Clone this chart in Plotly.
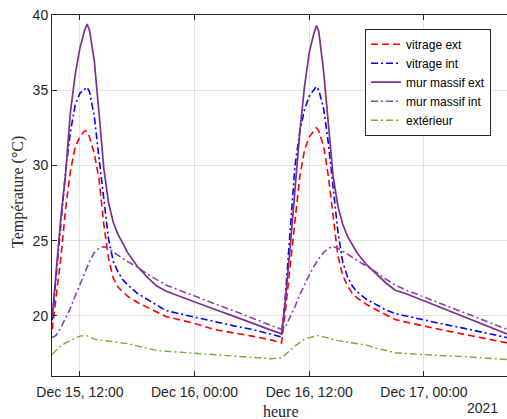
import plotly.graph_objects as go
from datetime import datetime, timedelta

# hours since 2021-12-15 00:00
HOURS = [9.1, 9.5, 10, 10.5, 11, 11.5, 12, 12.5, 12.75, 13, 13.5, 14, 14.5, 15, 15.5, 16, 16.5, 17,
         18, 19, 20, 21, 22, 23, 24, 26, 28, 30, 32, 33.1,
         33.5, 34, 34.5, 35, 35.5, 36, 36.5, 36.75, 37, 37.5, 38, 38.5, 39, 39.5, 40, 40.5, 41,
         42, 43, 44, 45, 46, 48, 50, 52, 54, 56, 56.7]

vitrage_ext = [19.1, 21.2, 23.8, 27.1, 29.6, 31.2, 31.9, 32.3, 32.25, 31.9, 30.8, 29.1, 26.1, 23.8, 22.5, 21.9, 21.6, 21.3,
               20.9, 20.6, 20.25, 19.95, 19.8, 19.65, 19.5, 19.1, 18.9, 18.65, 18.4, 18.2,
               20.3, 23.3, 26.6, 29.2, 31.0, 31.9, 32.3, 32.5, 32.3, 31.3, 29.3, 26.6, 24.0, 22.7, 22.0, 21.5, 21.2,
               20.75, 20.4, 20.05, 19.75, 19.6, 19.3, 19.05, 18.8, 18.55, 18.3, 18.2]

vitrage_int = [19.7, 22.4, 26.0, 29.6, 32.2, 34.0, 34.8, 35.1, 35.2, 34.9, 33.3, 30.5, 27.6, 25.1, 23.6, 22.9, 22.4, 22.05,
               21.5, 21.1, 20.7, 20.35, 20.2, 20.05, 19.9, 19.6, 19.35, 19.1, 18.8, 18.6,
               21.3, 25.5, 29.9, 32.2, 33.7, 34.6, 35.0, 35.25, 35.0, 33.8, 31.5, 28.5, 25.6, 23.6, 22.6, 22.0, 21.6,
               21.1, 20.75, 20.4, 20.15, 20.0, 19.7, 19.45, 19.2, 18.95, 18.65, 18.55]

mur_massif_ext = [19.9, 23.0, 26.5, 29.4, 33.5, 36.0, 37.8, 39.0, 39.4, 39.0, 37.0, 33.5, 29.8, 27.5, 26.2, 25.4, 24.8, 24.2,
                  23.3, 22.6, 22.0, 21.65, 21.4, 21.15, 20.95, 20.45, 20.0, 19.5, 19.05, 18.8,
                  21.0, 24.5, 28.2, 32.1, 35.2, 37.5, 38.8, 39.3, 38.9, 36.3, 32.8, 29.3, 27.3, 26.1, 25.3, 24.7, 24.2,
                  23.4, 22.8, 22.2, 21.7, 21.5, 21.0, 20.5, 19.97, 19.46, 18.95, 18.8]

mur_massif_int = [18.55, 18.7, 19.2, 19.8, 20.5, 21.3, 22.1, 22.9, 23.25, 23.6, 24.2, 24.5, 24.6, 24.5, 24.25, 24.0, 23.8, 23.6,
                  23.25, 22.8, 22.4, 22.05, 21.8, 21.55, 21.3, 20.85, 20.35, 19.86, 19.37, 19.1,
                  19.25, 19.9, 20.6, 21.4, 22.1, 22.7, 23.3, 23.55, 23.8, 24.2, 24.5, 24.6, 24.5, 24.3, 24.1, 23.9, 23.7,
                  23.35, 22.9, 22.45, 22.05, 21.75, 21.25, 20.75, 20.25, 19.75, 19.25, 19.1]

exterieur = [17.45, 17.7, 18.0, 18.2, 18.35, 18.5, 18.65, 18.7, 18.68, 18.6, 18.45, 18.4, 18.35, 18.3, 18.25, 18.2, 18.15, 18.15,
             18.0, 17.85, 17.7, 17.65, 17.6, 17.55, 17.5, 17.4, 17.35, 17.25, 17.15, 17.2,
             17.4, 17.7, 18.0, 18.25, 18.45, 18.55, 18.65, 18.68, 18.7, 18.6, 18.5, 18.4, 18.35, 18.3, 18.25, 18.2, 18.15,
             18.05, 17.85, 17.7, 17.55, 17.5, 17.45, 17.35, 17.3, 17.2, 17.15, 17.1]

TICK_TIMES = ["2021-12-15 12:00", "2021-12-16 00:00", "2021-12-16 12:00", "2021-12-17 00:00"]
TICK_LABELS = ["Dec 15, 12:00", "Dec 16, 00:00", "Dec 16, 12:00", "Dec 17, 00:00"]
Y_TICKS = [20, 25, 30, 35, 40]

t0 = datetime(2021, 12, 15)
times = [t0 + timedelta(hours=h) for h in HOURS]

series = [
    ("vitrage ext", vitrage_ext, "#FF0000", "7px,4px", 1.6),
    ("vitrage int", vitrage_int, "#0000FF", "7px,3px,2px,3px", 1.6),
    ("mur massif ext", mur_massif_ext, "#7E2F8E", "solid", 1.7),
    ("mur massif int", mur_massif_int, "#8A42A3", "7px,3px,2px,3px", 1.6),
    ("extérieur", exterieur, "#77AC30", "7px,3px,2px,3px", 1.4),
]

fig = go.Figure()
for name, vals, color, dash, w in series:
    fig.add_trace(go.Scatter(x=times, y=vals, mode="lines", name=name,
                             line=dict(color=color, dash=dash, width=w)))

AX = "#262626"
FONT = "Liberation Sans, Arial, sans-serif"
SERIF = "Liberation Serif, Times New Roman, serif"
fig.update_layout(
    width=507, height=419,
    margin=dict(l=52, r=0, t=15, b=43),
    paper_bgcolor="white", plot_bgcolor="white",
    font=dict(family=FONT, size=14, color=AX),
    showlegend=True,
    legend=dict(x=0.688, y=0.962, xanchor="left", yanchor="top",
                bgcolor="white", bordercolor=AX, borderwidth=1,
                font=dict(family=FONT, size=12, color="#000000"),
                tracegroupgap=0, itemwidth=30),
    xaxis=dict(range=[t0 + timedelta(hours=9.08), t0 + timedelta(hours=56.7)],
               tickvals=TICK_TIMES, ticktext=TICK_LABELS,
               showgrid=True, gridcolor="#E3E3E3", gridwidth=1,
               showline=True, linecolor=AX, linewidth=1, mirror="ticks",
               ticks="inside", ticklen=5, tickcolor=AX,
               tickfont=dict(family=FONT, size=14, color=AX),
               ticklabelstandoff=3, zeroline=False),
    yaxis=dict(range=[16, 40], tickvals=Y_TICKS,
               showgrid=True, gridcolor="#E3E3E3", gridwidth=1,
               showline=True, linecolor=AX, linewidth=1, mirror=False,
               ticks="inside", ticklen=5, tickcolor=AX,
               tickfont=dict(family=FONT, size=14, color=AX),
               zeroline=False),
    annotations=[
        dict(text="heure", xref="paper", yref="paper", x=(280.5 - 52) / 455, y=-(411 - 376) / 361,
             xanchor="center", yanchor="middle", showarrow=False,
             font=dict(family=SERIF, size=16, color=AX)),
        dict(text="Température (°C)", xref="paper", yref="paper", x=-(52 - 18) / 455, y=(376 - 192) / 361,
             xanchor="center", yanchor="middle", showarrow=False, textangle=-90,
             font=dict(family=SERIF, size=16, color=AX)),
        dict(text="2021", xref="paper", yref="paper", x=(482.5 - 52) / 455, y=-(408 - 376) / 361,
             xanchor="center", yanchor="middle", showarrow=False,
             font=dict(family=FONT, size=14, color=AX)),
    ],
)

fig.write_html("out.html", config={"displayModeBar": False},
               post_script="document.body.style.margin='0';document.body.style.overflow='hidden';")
